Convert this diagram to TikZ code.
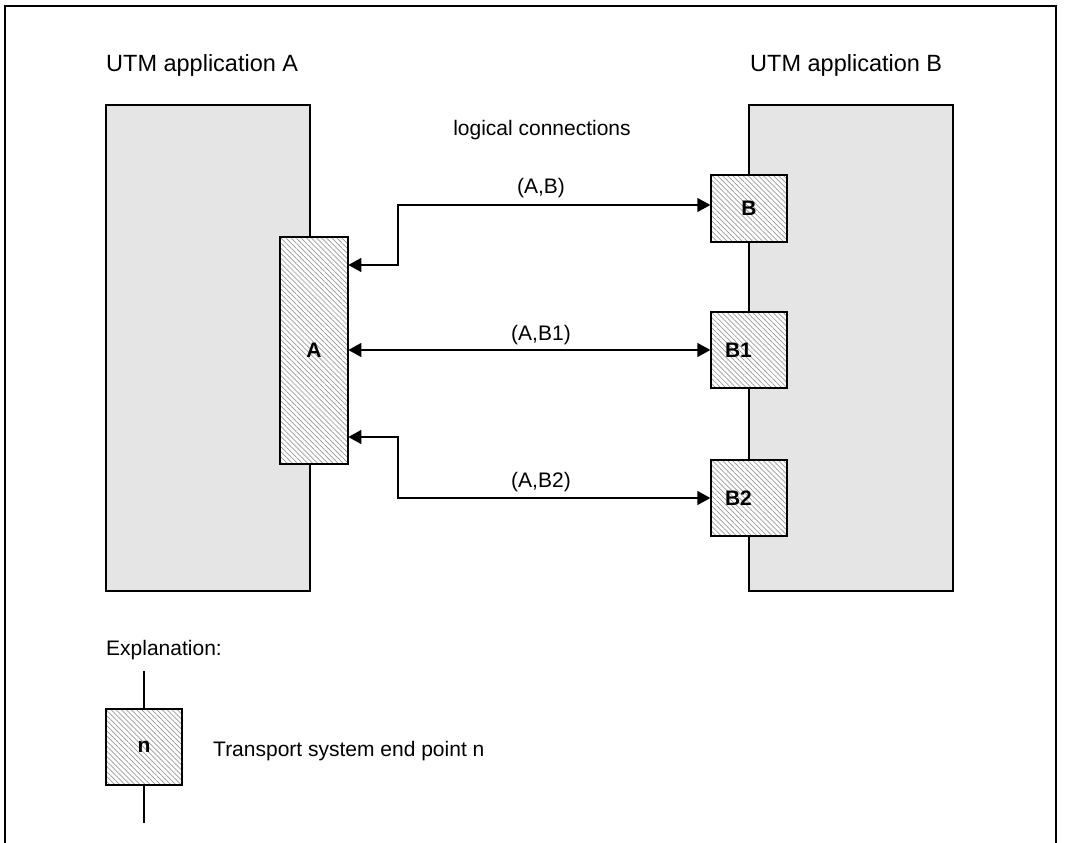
\documentclass[tikz,border=0pt]{standalone}
\usepackage{fontspec}
\setmainfont{Liberation Sans}
\usetikzlibrary{arrows.meta,patterns.meta}
\begin{document}
\begin{tikzpicture}[x=1pt,y=-1pt,
  appbox/.style={draw=black,line width=1.3pt,fill=gray!20},
  tsep/.style={draw=black,line width=1.3pt,inner sep=0pt,
    pattern={Lines[angle=-45,distance=3.6pt,line width=0.7pt]},pattern color=gray!80,
    font=\fontsize{21}{24}\selectfont\bfseries},
  conn/.style={line width=1.3pt,{Triangle[length=13pt,width=14pt]}-{Triangle[length=13pt,width=14pt]}},
  lbl/.style={font=\fontsize{21}{25}\selectfont,inner sep=0pt},
  title/.style={font=\fontsize{23.5}{28}\selectfont,inner sep=0pt},
  plain/.style={line width=1.3pt}]
\useasboundingbox (0,0) rectangle (1066,843);
% outer frame
\draw[line width=2pt] (5,850) -- (5,6) -- (1056,6) -- (1056,850);
% application areas
\draw[appbox] (106,105) rectangle (310,591);
\draw[appbox] (749,105) rectangle (953,591);
\node[title,anchor=base west] (tA) at (106,72) {UTM application A};
\node[title,anchor=base west] (tB) at (750,72) {UTM application B};
\node[lbl,anchor=base] (lc) at (542,135) {logical connections};
% white backgrounds under hatched end points
\foreach \cx/\cy/\w/\h in {314/350.5/68/227, 749/208.5/76/67, 749/350/76/76, 749/498/76/76, 144/747/76/76}{
  \fill[white] (\cx-\w/2,\cy-\h/2) rectangle (\cx+\w/2,\cy+\h/2);
}
\node[tsep,minimum width=68pt,minimum height=227pt] (A) at (314,350.5) {A};
\node[tsep,minimum width=76pt,minimum height=67pt] (B) at (749,208.5) {B};
\node[tsep,minimum width=76pt,minimum height=76pt] (B1) at (749,350) {\makebox[48pt][l]{B1}};
\node[tsep,minimum width=76pt,minimum height=76pt] (B2) at (749,498) {\makebox[48pt][l]{B2}};
% connections
\coordinate (kAB) at (398,205);
\coordinate (kAB2) at (398,498);
\draw[conn] (A.east |- 0,265) -| (kAB) -- (B.west |- kAB);
\draw[conn] (A.east |- B1.west) -- (B1.west);
\draw[conn] (A.east |- 0,437) -| (kAB2) -- (B2.west);
\node[lbl,anchor=base] (lAB) at (541,193) {(A,B)};
\node[lbl,anchor=base] (lAB1) at (541,340) {(A,B1)};
\node[lbl,anchor=base] (lAB2) at (541,487) {(A,B2)};
% explanation
\node[lbl,anchor=base west] (ex) at (106,655) {Explanation:};
\node[tsep,minimum width=76pt,minimum height=76pt] (n) at (144,747) {n};
\coordinate (nt) at (144,671);
\coordinate (nb) at (144,823);
\draw[plain] (n.north) -- (nt);
\draw[plain] (n.south) -- (nb);
\node[lbl,anchor=base west] (nd) at (213,756) {Transport system end point n};
\end{tikzpicture}
\end{document}
